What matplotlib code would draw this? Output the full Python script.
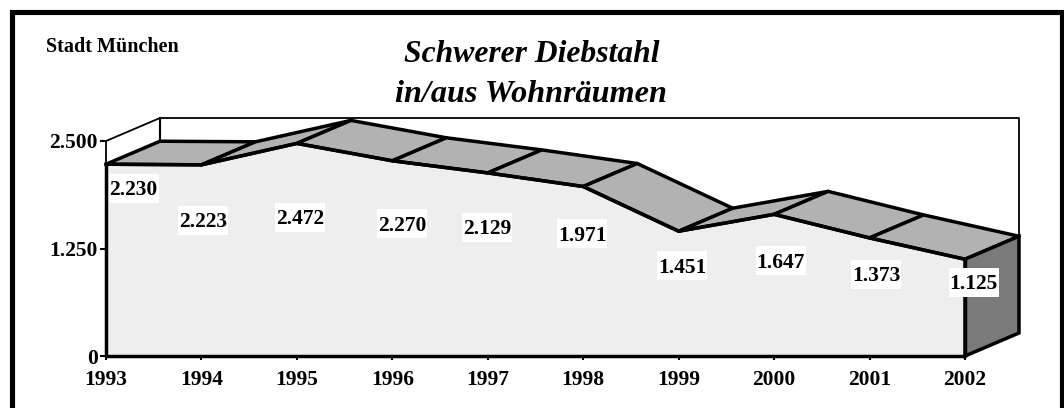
import matplotlib
matplotlib.use("Agg")
import matplotlib.pyplot as plt
from matplotlib.patches import Polygon, Rectangle

years = [1993, 1994, 1995, 1996, 1997, 1998, 1999, 2000, 2001, 2002]
values = [2230, 2223, 2472, 2270, 2129, 1971, 1451, 1647, 1373, 1125]
labels = ["2.230", "2.223", "2.472", "2.270", "2.129", "1.971", "1.451", "1.647", "1.373", "1.125"]
label_y = [1933, 1561, 1596, 1515, 1480, 1399, 1027, 1085, 933, 840]
label_x = [1993.29, 1994.02, 1995.03, 1996.10, 1996.99, 1997.99, 1999.04, 2000.07, 2001.07, 2002.09]
y_ticks = [0, 1250, 2500]
y_tick_labels = ["0", "1.250", "2.500"]

W, H = 1064, 408
plt.rcParams["font.family"] = ["Liberation Serif", "DejaVu Serif"]
plt.rcParams["font.weight"] = "bold"

fig = plt.figure(figsize=(W / 100, H / 100), dpi=100)

# frame lives in pixel coordinates, runs off the bottom of the picture
bg = fig.add_axes([0, 0, 1, 1])
bg.set_xlim(0, W)
bg.set_ylim(H, 0)
bg.axis("off")
bg.plot([11.5, 11.5, 1062, 1062], [H + 5, 11.5, 11.5, H + 5], color="black", lw=3.7,
        solid_joinstyle="miter")

# chart axes: 1993 at x=106, 2002 at x=965, 0 at y=356, 2500 at y=141
ax = fig.add_axes([106 / W, 1 - 356 / H, (965 - 106) / W, (356 - 141) / H])
ax.set_xlim(1993, 2002)
ax.set_ylim(0, 2500)
ax.patch.set_alpha(0)

# depth of the pseudo 3d box
dx = 54 / 95.44
dy = 23 / 215 * 2500
lw = 2.5

x0, x1 = years[0], years[-1]

# back wall and left side wall, thin lines
ax.plot([x0, x0, x0 + dx, x1 + dx, x1 + dx],
        [values[0], 2500, 2500 + dy, 2500 + dy, values[-1] + dy],
        color="black", lw=1.3, clip_on=False, zorder=1)
ax.plot([x0 + dx, x0 + dx], [2500 + dy, values[0] + dy], color="black", lw=1.5, clip_on=False, zorder=1)

# front face
front = [(x0, 0)] + list(zip(years, values)) + [(x1, 0)]
ax.add_patch(Polygon(front, closed=True, fc="#eeeeee", ec="none", clip_on=False, zorder=2))

# top strips, back to front
for i in range(len(years) - 1):
    strip = [(years[i], values[i]), (years[i + 1], values[i + 1]),
             (years[i + 1] + dx, values[i + 1] + dy), (years[i] + dx, values[i] + dy)]
    ax.add_patch(Polygon(strip, closed=True, fc="#b2b2b2", ec="black", lw=lw,
                         joinstyle="round", clip_on=False, zorder=3))

# right end face
side = [(x1, 0), (x1, values[-1]), (x1 + dx, values[-1] + dy), (x1 + dx, dy)]
ax.add_patch(Polygon(side, closed=True, fc="#7a7a7a", ec="black", lw=lw, clip_on=False, zorder=3))

# front outline
ax.plot([x0, x0, x1, x1], [values[0], 0, 0, values[-1]], color="black", lw=lw,
        clip_on=False, zorder=4)
ax.plot(years, values, color="black", lw=lw, clip_on=False, zorder=4)

for s in ax.spines.values():
    s.set_visible(False)
ax.set_xticks(years)
ax.set_xticklabels([str(y) for y in years], fontsize=15.5, fontweight="bold")
ax.set_yticks(y_ticks)
ax.set_yticklabels(y_tick_labels, fontsize=15.5, fontweight="bold")
ax.tick_params(axis="x", length=3, width=1.5, pad=7)
ax.tick_params(axis="y", length=4.5, width=1.5, pad=1.5)

# value labels sit on white boxes 50x29 px, box centre is a bit above the text anchor
box_w = 50 / 95.44
box_h = 29 / 215 * 2500
for xp, yp, t in zip(label_x, label_y, labels):
    ax.add_patch(Rectangle((xp - box_w / 2, yp + 20 - box_h / 2), box_w, box_h, fc="white", ec="none",
                           clip_on=False, zorder=5))
    ax.text(xp, yp, t, ha="center", va="center", fontsize=15.5, fontweight="bold", zorder=6)

bg.set_zorder(5)
bg.text(46, 47, "Stadt München", fontsize=14.5, fontweight="bold", va="center", ha="left")
bg.text(532, 55, "Schwerer Diebstahl", fontsize=22.8, style="italic", fontweight="bold",
        ha="center", va="center")
bg.text(531, 94, "in/aus Wohnräumen", fontsize=23.2, style="italic", fontweight="bold",
        ha="center", va="center")

fig.savefig("out.png", dpi=100)
